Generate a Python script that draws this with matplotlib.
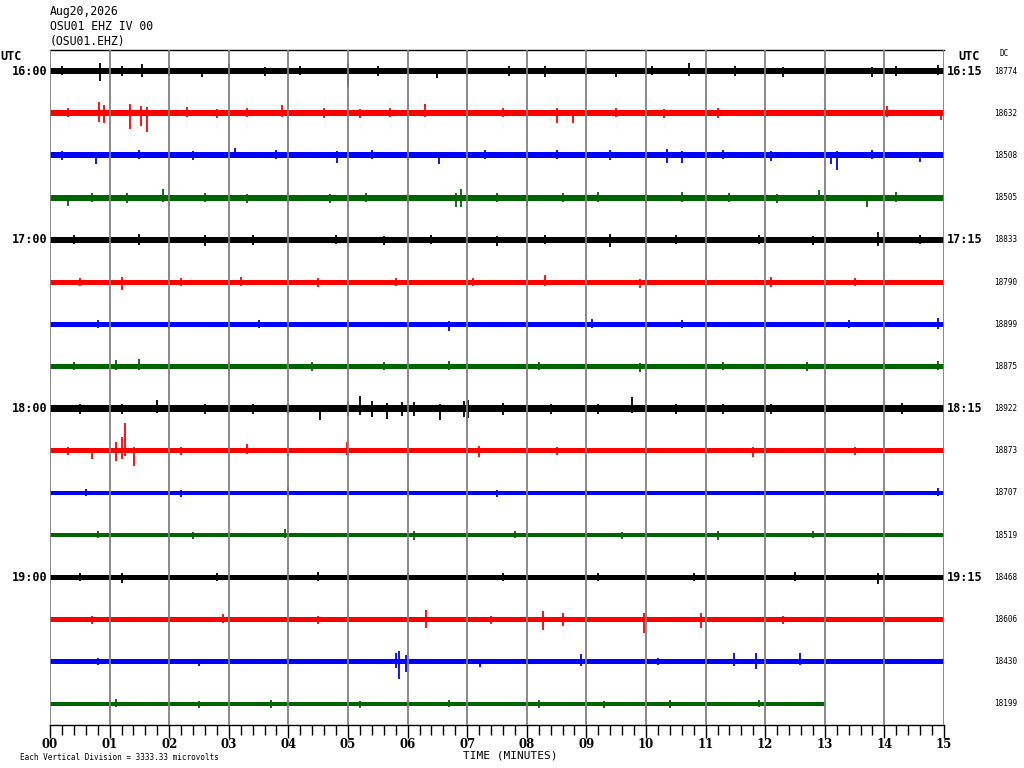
import matplotlib
matplotlib.use("Agg")
import matplotlib.pyplot as plt

# Header / labels
header = ["Aug20,2026", "OSU01 EHZ IV 00", "(OSU01.EHZ)"]
left_hours = ["16:00", "17:00", "18:00", "19:00"]
right_hours = ["16:15", "17:15", "18:15", "19:15"]
dc_values = [18774, 18632, 18508, 18505, 18833, 18790, 18899, 18875,
             18922, 18873, 18707, 18519, 18468, 18606, 18430, 18199]
minute_labels = ["%02d" % m for m in range(16)]

# Trace data (amplitudes in pixels)
trace_colors = ["black", "#ff0000", "#0000ff", "#006400"]
noise_halfwidth = [3, 3, 3, 3, 3, 2.5, 2.5, 2.5, 3.5, 2.5, 2.3, 2.3, 2.7, 2.3, 2.3, 2.3]
trace_end = [15] * 15 + [13]
# (minute, up, down) for notable spikes per trace
spikes = [
    [(0.2, 5, 4), (0.84, 8, 10), (1.2, 5, 5), (1.55, 7, 6), (2.0, 4, 5), (2.55, 2, 6), (3.0, 7, 3), (3.6, 4, 5),
     (4.2, 5, 4), (5.0, 8, 16), (5.5, 5, 5), (6.5, 3, 7), (7.7, 5, 5), (8.3, 5, 6), (9.0, 5, 4), (9.49, 2, 6),
     (10.1, 5, 4), (10.72, 8, 5), (11.5, 5, 5), (12.3, 4, 6), (13.0, 5, 4), (13.8, 4, 6), (14.2, 5, 5), (14.9, 6, 4)],
    [(0.3, 5, 4), (0.82, 11, 9), (0.9, 8, 10), (1.34, 9, 16), (1.52, 7, 13), (1.63, 6, 19), (2.3, 6, 4), (2.8, 4, 5),
     (3.3, 5, 4), (3.9, 8, 4), (4.6, 5, 5), (5.2, 4, 5), (5.7, 5, 4), (6.29, 9, 4), (7.0, 4, 5), (7.6, 5, 4),
     (8.5, 5, 10), (8.78, 3, 10), (9.5, 5, 4), (10.3, 4, 5), (11.2, 5, 5), (12.0, 5, 4), (13.0, 5, 5), (14.04, 7, 4), (14.95, 3, 7)],
    [(0.2, 4, 5), (0.77, 3, 9), (1.5, 5, 4), (2.4, 4, 5), (3.1, 7, 3), (3.8, 5, 4), (4.81, 4, 8), (5.4, 5, 4),
     (6.0, 4, 5), (6.53, 3, 9), (7.3, 5, 4), (8.0, 4, 5), (8.5, 5, 4), (9.4, 5, 5), (10.35, 6, 8), (10.6, 4, 8),
     (11.3, 5, 4), (12.1, 4, 6), (13.1, 3, 9), (13.21, 4, 15), (13.8, 5, 4), (14.6, 3, 7)],
    [(0.31, 3, 8), (0.7, 5, 4), (1.3, 5, 5), (1.9, 9, 4), (2.6, 5, 4), (3.3, 4, 5), (4.0, 5, 4), (4.7, 4, 5),
     (5.3, 5, 4), (6.0, 4, 5), (6.9, 9, 9), (6.82, 5, 9), (7.5, 5, 4), (8.0, 3, 8), (8.6, 5, 4), (9.2, 6, 4),
     (10.0, 4, 5), (10.6, 6, 4), (11.4, 5, 4), (12.2, 4, 5), (12.9, 8, 3), (13.7, 3, 9), (14.2, 6, 4)],
    [(0.4, 5, 4), (1.5, 6, 5), (2.6, 5, 6), (3.4, 5, 5), (4.8, 5, 4), (5.6, 4, 5), (6.4, 5, 4), (7.5, 4, 6),
     (8.3, 5, 4), (9.4, 6, 7), (10.5, 5, 4), (11.9, 5, 4), (12.8, 4, 5), (13.9, 8, 6), (14.6, 5, 4)],
    [(0.5, 4, 4), (1.2, 5, 8), (2.2, 4, 4), (3.2, 5, 4), (4.5, 4, 5), (5.8, 4, 4), (7.1, 4, 4), (8.3, 7, 4),
     (9.9, 3, 6), (11.0, 4, 4), (12.1, 5, 5), (13.5, 4, 4)],
    [(0.8, 4, 4), (2.0, 4, 5), (3.5, 4, 4), (5.0, 4, 4), (6.7, 3, 7), (8.0, 4, 4), (9.1, 5, 4), (10.6, 4, 4),
     (12.0, 4, 5), (13.4, 4, 4), (14.9, 6, 5)],
    [(0.4, 4, 4), (1.1, 6, 4), (1.5, 7, 4), (3.0, 4, 4), (4.4, 4, 5), (5.6, 4, 4), (6.7, 5, 4), (8.2, 4, 4),
     (9.9, 3, 6), (11.3, 4, 4), (12.7, 4, 5), (14.0, 4, 4), (14.9, 5, 4)],
    [(0.5, 5, 5), (1.2, 5, 5), (1.79, 9, 4), (2.6, 5, 5), (3.4, 5, 5), (4.0, 5, 5), (4.53, 4, 11), (5.0, 8, 7),
     (5.2, 13, 6), (5.4, 8, 8), (5.65, 6, 10), (5.9, 7, 7), (6.1, 7, 7), (6.54, 5, 11), (6.95, 8, 8), (7.02, 9, 9),
     (7.6, 6, 6), (8.4, 5, 5), (9.2, 5, 5), (9.77, 12, 4), (10.5, 5, 5), (11.3, 5, 5), (12.1, 5, 5), (13.0, 5, 5), (14.3, 6, 5)],
    [(0.3, 4, 4), (0.7, 3, 8), (1.1, 9, 10), (1.2, 14, 8), (1.26, 28, 5), (1.41, 4, 15), (2.2, 4, 4), (3.3, 7, 3),
     (4.0, 4, 5), (4.98, 9, 4), (6.0, 4, 4), (7.2, 5, 6), (8.5, 4, 4), (10.0, 4, 4), (11.8, 4, 6), (13.5, 4, 4)],
    [(0.6, 4, 3), (2.2, 3, 4), (4.0, 6, 3), (6.0, 4, 4), (7.5, 3, 4), (9.0, 4, 5), (11.0, 4, 3), (13.0, 3, 4), (14.9, 5, 3)],
    [(0.8, 4, 3), (2.4, 3, 4), (3.95, 6, 3), (6.1, 4, 5), (7.8, 4, 3), (9.6, 3, 4), (11.2, 4, 5), (12.8, 4, 3)],
    [(0.5, 4, 4), (1.2, 4, 6), (2.8, 4, 4), (4.5, 5, 4), (6.0, 4, 4), (7.6, 4, 4), (9.2, 4, 4), (10.8, 4, 4),
     (12.5, 5, 4), (13.9, 4, 7)],
    [(0.7, 4, 4), (2.9, 6, 3), (4.5, 4, 4), (6.31, 10, 8), (7.4, 4, 4), (8.28, 9, 10), (8.6, 7, 6), (9.96, 7, 13),
     (10.93, 7, 8), (12.3, 4, 4), (14.0, 4, 5)],
    [(0.8, 4, 3), (2.5, 3, 4), (4.0, 4, 3), (5.8, 9, 6), (5.86, 11, 17), (5.97, 7, 10), (7.22, 3, 5), (8.91, 8, 4),
     (10.2, 4, 3), (11.47, 9, 4), (11.84, 9, 7), (12.58, 9, 3), (14.0, 4, 3)],
    [(1.1, 5, 3), (2.5, 3, 4), (3.7, 4, 4), (5.2, 3, 4), (6.7, 4, 3), (8.2, 4, 4), (9.3, 3, 4), (10.4, 4, 4), (11.9, 4, 3)],
]

px_per_trace = 42.2

fig = plt.figure(figsize=(10.24, 7.68), dpi=100)
ax = fig.add_axes([50 / 1024, 1 - 725 / 768, 894 / 1024, 675 / 768])
ax.set_xlim(0, 15)
ax.set_ylim(len(dc_values), 0)

for i in range(len(dc_values)):
    color = trace_colors[i % 4]
    yc = i + 0.5
    hw = noise_halfwidth[i] / px_per_trace
    ax.fill_between([0, trace_end[i]], yc - hw, yc + hw, color=color, lw=0, zorder=2)
    for (m, up, down) in spikes[i]:
        ax.vlines(m, yc - up / px_per_trace, yc + down / px_per_trace, color=color, lw=1.3, zorder=2)
    ax.text((994 - 50) / 894, yc, str(dc_values[i]), transform=ax.get_yaxis_transform(),
            ha="left", va="center", fontsize=5.5, family="DejaVu Sans Mono")

# minute grid
for m in range(16):
    ax.axvline(m, color="#808080", lw=1.3, zorder=3)

for k in range(4):
    yc = k * 4 + 0.5
    ax.text(-0.003, yc, left_hours[k], transform=ax.get_yaxis_transform(), ha="right", va="center",
            fontsize=8.5, fontweight="bold", family="DejaVu Sans Mono")
    ax.text(1.003, yc, right_hours[k], transform=ax.get_yaxis_transform(), ha="left", va="center",
            fontsize=8.5, fontweight="bold", family="DejaVu Sans Mono")

for s in ["left", "right"]:
    ax.spines[s].set_visible(False)
ax.spines["top"].set_linewidth(1.0)
ax.spines["bottom"].set_linewidth(1.0)

ax.set_yticks([])
ax.set_xticks(range(16))
ax.set_xticklabels(minute_labels, fontsize=8.5, fontweight="bold", family="DejaVu Serif")
ax.set_xticks([m / 5 for m in range(76) if m % 5], minor=True)
ax.tick_params(axis="x", which="major", length=9, width=1, pad=0)
ax.tick_params(axis="x", which="minor", length=7, width=1)

fig.text(510 / 1024, 1 - 755 / 768, "TIME (MINUTES)", ha="center", va="center",
         fontsize=8.0, family="DejaVu Sans Mono")
for j, line in enumerate(header):
    fig.text(50 / 1024, 1 - (12 + 15 * j) / 768, line, ha="left", va="center",
             fontsize=8.3, family="DejaVu Sans Mono")
fig.text(0 / 1024, 1 - 56 / 768, "UTC", ha="left", va="center", fontsize=8.5, fontweight="bold",
         family="DejaVu Sans Mono")
fig.text(958 / 1024, 1 - 56 / 768, "UTC", ha="left", va="center", fontsize=8.5, fontweight="bold",
         family="DejaVu Sans Mono")
fig.text(999 / 1024, 1 - 54 / 768, "DC", ha="left", va="center", fontsize=5.5, family="DejaVu Sans Mono")
fig.text(20 / 1024, 1 - 757 / 768, "Each Vertical Division = 3333.33 microvolts", ha="left", va="center",
         fontsize=5.5, family="DejaVu Sans Mono")

fig.savefig("out.png", dpi=100)
